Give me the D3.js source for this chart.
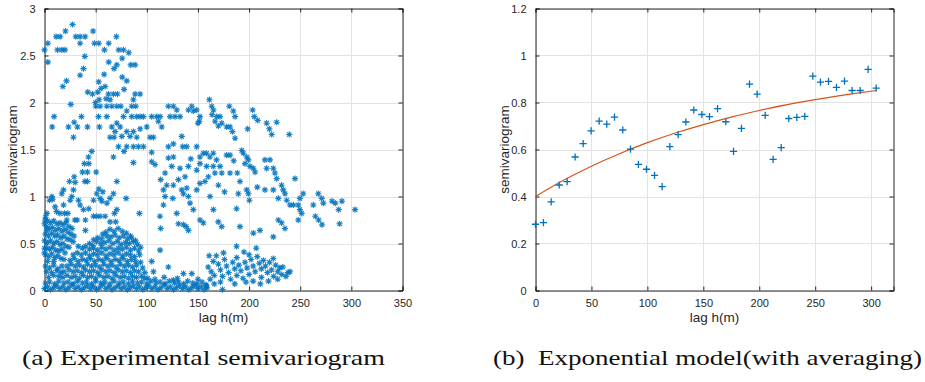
<!DOCTYPE html>
<html><head><meta charset="utf-8">
<script src="https://cdn.jsdelivr.net/npm/d3@7"></script>
<style>
html,body{margin:0;padding:0;background:#fff;}
svg{display:block;}
</style></head>
<body>
<svg id="chart" width="925" height="382"></svg>
<script>
// ---------------- DATA ----------------
// (a) experimental semivariogram cloud: [lag h (m), semivariogram]
const upperPts = [[0,2.56],[3.3,2.63],[3.3,2.43],[11.4,2.70],[15.3,2.70],[12.7,2.56],[17,2.56],[20,2.56],[20.5,2.76],[27.4,2.83],[30.6,2.70],[34.8,2.70],[34.8,2.63],[39.7,2.70],[39.4,2.49],[47.5,2.76],[48.8,2.63],[53.1,2.63],[58.6,2.56],[62.8,2.63],[70.3,2.70],[62.8,2.43],[70.7,2.40],[72.6,2.56],[77.2,2.56],[82.4,2.53],[75.9,2.47],[84.3,2.40],[88.6,2.40],[38.1,2.36],[34.8,2.29],[21.5,2.23],[17.9,2.17],[25.7,1.98],[9.4,1.85],[7.5,1.74],[23.4,1.74],[29,1.79],[36.1,1.85],[28.3,1.63],[32.2,1.74],[42,1.74],[53.7,1.74],[42.3,2.11],[46.9,2.09],[53,2.22],[58.3,2.30],[55.4,2.15],[52.1,2.11],[59.3,2.17],[62.5,2.09],[67.4,2.09],[71.3,2.09],[60.2,2.04],[64.1,2.03],[53.4,2.03],[50.1,1.96],[54.4,1.96],[60.9,1.96],[65.8,1.96],[70.7,1.96],[74.6,1.96],[77.8,2.14],[80.4,2.23],[76,2.27],[68,2.36],[49.8,2.0],[52.8,1.85],[60.9,1.85],[88.6,2.09],[93.5,2.09],[86.9,2.03],[85.3,1.96],[89.2,1.96],[80.4,1.91],[77.2,1.85],[85.3,1.85],[90.2,1.85],[93.5,1.85],[96.7,1.85],[104.8,1.85],[109.7,1.85],[113,1.85],[65.8,1.74],[70.7,1.78],[74,1.74],[69,1.69],[75.6,1.64],[80.4,1.69],[83.7,1.64],[86.9,1.69],[90.2,1.63],[93.5,1.72],[100,1.74],[103.2,1.63],[106.5,1.63],[96.7,1.53],[91.8,1.53],[86.9,1.53],[80.4,1.53],[77.8,1.48],[72.3,1.53],[68.1,1.63],[64.1,1.63],[67.4,1.42],[86.9,1.36],[104.8,1.47],[104.8,1.37],[108.1,1.34],[114.6,1.74],[111.3,1.80]];
const upperRightPts = [[121.1,1.96],[126,1.96],[129.3,1.92],[122.8,1.85],[127.6,1.85],[132.5,1.85],[140.7,1.92],[144,1.96],[148.8,1.92],[152,1.85],[145.5,1.91],[151.4,1.80],[161.2,2.03],[163.5,1.96],[165.2,1.92],[163.8,1.87],[168.4,1.85],[166.8,1.80],[171.6,1.85],[173.3,1.78],[178.1,1.74],[181.4,1.74],[183.7,1.69],[186.3,1.62],[180.7,1.96],[184.6,1.91],[186.3,1.85],[198.6,1.72],[203.5,1.92],[205.1,1.85],[208.4,1.81],[217.2,1.78],[222.1,1.66],[219.8,1.72],[227,1.79],[239.3,1.66],[150,1.78],[170,1.75]];
const midPts = [[134.2,1.64],[126,1.56],[121.1,1.53],[126,1.42],[121.1,1.41],[135.2,1.53],[139.1,1.53],[148.8,1.53],[113.6,1.18],[117.9,1.25],[124.4,1.32],[132.5,1.30],[140.7,1.32],[116.3,1.07],[119.5,1.12],[126,1.12],[130.9,1.18],[137.4,1.21],[139.1,1.09],[140.7,1.00],[142.3,0.93],[145.5,0.86],[134.2,1.07],[135.8,1.03],[125.4,0.98],[117.9,1.00],[116.3,0.91],[112.9,0.79],[113.6,0.66],[129.3,0.82],[130.9,0.71],[135.8,0.70],[138.5,0.68],[140.7,0.64],[152,1.42],[155.3,1.46],[158.5,1.46],[152,1.35],[148.8,1.28],[158.5,1.32],[161.7,1.42],[165,1.46],[168.2,1.39],[171.6,1.32],[173.3,1.25],[165,1.32],[166.6,1.25],[152,1.14],[156.9,1.16],[160.2,1.21],[148.8,1.07],[161.8,1.00],[165.1,0.86],[152,0.75],[155.3,0.72],[169.9,0.73],[173.2,0.68],[178.1,1.44],[181.4,1.44],[181.4,1.25],[188.5,1.25],[191.1,1.16],[189.5,1.03],[187.8,0.87],[191.1,0.68],[192.8,1.49],[194.4,1.46],[197.7,1.42],[199.3,1.39],[200.9,1.32],[204.2,1.30],[205.9,1.26],[196,1.35],[197.7,1.07],[199.3,1.03],[200.3,0.96],[215.5,1.39],[220.4,1.39],[217.2,1.30],[223.7,1.30],[225.3,1.25],[227,1.19],[223.7,1.07],[215.5,1.07],[231.8,1.12],[233.4,1.07],[235.1,1.03],[228.6,0.98],[236.8,0.96],[240,0.91],[244.9,1.19],[243.3,0.91],[248.1,0.91],[249.7,0.86],[251.4,0.82],[252.9,1.03],[248.1,0.75],[249.7,0.98],[262.8,0.91],[267.7,1.03],[271,0.98],[272.6,0.93],[281.1,0.95],[284.3,0.93],[287.6,0.86],[290.8,0.95],[303.6,0.86],[288.5,0.71],[264.8,0.79],[268,0.75],[271.3,0.70],[228.6,0.75],[231.8,0.72],[235.1,0.66],[210.6,0.64],[204.2,0.61],[223.7,0.57],[143,1.40],[170,1.12],[176,1.05],[208,1.10],[185,1.38]];
const leftMidPts = [[46.2,1.48],[43,1.42],[39,1.35],[43.3,1.35],[50.5,1.26],[37.1,1.26],[42,1.26],[29,1.21],[24.4,1.16],[39.4,1.16],[42,1.16],[28.3,1.07],[18.6,1.07],[16.9,1.03],[7.2,1.00],[4.9,0.96],[25.1,0.96],[26.7,1.00],[33.2,0.96],[34.8,0.91],[38.1,0.86],[43.3,0.87],[47.9,0.96],[51.1,1.03],[53.1,1.08],[54.4,0.98],[56.1,0.95],[61,0.93],[64.1,0.98],[67.4,1.03],[70.7,1.16],[79.8,0.98],[92.8,0.82],[18.6,0.91],[10.4,0.89],[11.7,0.84],[15,0.82],[19.5,0.82],[22.8,0.82],[21.8,0.75],[29.6,0.75],[32,0.75],[40,0.75],[40,0.64],[47.9,0.79],[51.1,0.79],[54.4,0.79],[59.3,0.79],[64.1,0.73],[68.4,0.82],[70.7,0.86],[69.6,0.73],[0.7,0.75],[2.3,0.82],[2.3,0.64],[8,0.97],[30,1.15],[57,1.05]];
const lowerLeftPts = [[1,0.78],[3,0.74],[6,0.72],[9,0.74],[12,0.71],[15,0.72],[18,0.70],[21,0.72],[24,0.68],[2,0.68],[5,0.66],[8,0.67],[11,0.64],[14,0.66],[17,0.63],[20,0.65],[23,0.62],[26,0.60],[1,0.60],[4,0.58],[7,0.61],[10,0.58],[13,0.59],[16,0.56],[19,0.58],[22,0.55],[25,0.54],[28,0.52],[0,0.53],[3,0.51],[6,0.53],[9,0.50],[12,0.52],[15,0.49],[18,0.50],[21,0.47],[24,0.46],[2,0.45],[5,0.44],[8,0.46],[11,0.43],[14,0.42],[17,0.44],[20,0.40],[1,0.38],[4,0.36],[7,0.39],[10,0.35],[13,0.37],[16,0.34],[3,0.31],[9,0.31],[19,0.33],[0,0.71],[0,0.45],[0,0.40],[27,0.66],[29,0.58],[1,0.26],[5,0.24],[9,0.27],[13,0.23],[17,0.26],[2,0.20],[7,0.19],[12,0.21],[16,0.19]];
const triPts = [[60,0.62],[64,0.65],[68,0.63],[72,0.66],[76,0.63],[80,0.61],[84,0.58],[57,0.60],[52,0.56],[56,0.55],[61,0.58],[65,0.57],[69,0.59],[73,0.56],[77,0.58],[81,0.55],[85,0.56],[89,0.53],[48,0.54],[44,0.50],[47,0.48],[51,0.52],[55,0.50],[59,0.51],[63,0.53],[67,0.50],[71,0.52],[75,0.49],[79,0.51],[83,0.50],[87,0.52],[91,0.49],[94,0.46],[33,0.47],[37,0.45],[40,0.47],[44,0.44],[48,0.45],[52,0.43],[56,0.46],[60,0.44],[64,0.46],[68,0.43],[72,0.45],[76,0.44],[80,0.46],[84,0.43],[88,0.45],[92,0.42],[28,0.38],[32,0.40],[36,0.38],[40,0.40],[44,0.37],[48,0.39],[52,0.38],[56,0.40],[60,0.37],[64,0.39],[68,0.38],[72,0.40],[76,0.37],[80,0.39],[84,0.38],[88,0.36],[93,0.38],[25,0.32],[29,0.34],[33,0.31],[37,0.33],[41,0.32],[45,0.34],[49,0.31],[53,0.33],[57,0.32],[61,0.34],[65,0.31],[69,0.33],[73,0.32],[77,0.34],[81,0.31],[85,0.33],[89,0.31],[94,0.30],[22,0.26],[26,0.28],[30,0.26],[34,0.27],[38,0.25],[42,0.28],[46,0.26],[50,0.27],[54,0.25],[58,0.28],[62,0.26],[66,0.27],[70,0.25],[74,0.28],[78,0.26],[82,0.27],[86,0.25],[90,0.27],[96,0.24],[19,0.20],[24,0.22],[28,0.20],[32,0.21],[36,0.19],[40,0.22],[44,0.20],[48,0.21],[52,0.19],[56,0.22],[60,0.20],[64,0.21],[68,0.19],[72,0.22],[76,0.20],[80,0.21],[84,0.19],[88,0.21],[92,0.20],[98,0.19],[4,0.14],[9,0.16],[14,0.15],[18,0.14],[22,0.16],[26,0.14],[30,0.15],[34,0.13],[38,0.16],[42,0.14],[46,0.15],[50,0.13],[54,0.16],[58,0.14],[62,0.15],[66,0.13],[70,0.16],[74,0.14],[78,0.15],[82,0.13],[86,0.15],[90,0.14],[95,0.15],[101,0.13]];
const bottomPts = [[0,0.02],[3,0.04],[6,0.01],[9,0.03],[12,0.05],[15,0.02],[18,0.04],[21,0.01],[24,0.03],[27,0.06],[30,0.02],[33,0.04],[36,0.01],[39,0.03],[42,0.05],[45,0.02],[48,0.04],[51,0.01],[54,0.03],[57,0.06],[60,0.02],[63,0.04],[66,0.01],[69,0.03],[72,0.05],[75,0.02],[78,0.04],[81,0.01],[84,0.03],[87,0.05],[90,0.02],[93,0.04],[96,0.01],[99,0.03],[102,0.05],[105,0.02],[108,0.04],[111,0.01],[114,0.03],[117,0.06],[120,0.02],[123,0.04],[126,0.01],[129,0.03],[132,0.05],[135,0.02],[138,0.04],[141,0.01],[144,0.03],[147,0.05],[150,0.02],[153,0.04],[156,0.01],[159,0.03],[174,0.01],[1,0.08],[5,0.09],[10,0.07],[14,0.10],[19,0.08],[23,0.09],[28,0.07],[32,0.10],[37,0.08],[41,0.09],[46,0.07],[50,0.10],[55,0.08],[59,0.09],[64,0.07],[68,0.10],[73,0.08],[77,0.09],[82,0.07],[86,0.10],[91,0.08],[95,0.09],[100,0.07],[104,0.10],[109,0.08],[113,0.09],[118,0.07],[122,0.10],[127,0.08],[131,0.09],[136,0.07],[140,0.10],[145,0.08],[149,0.07],[154,0.09],[158,0.06],[104.8,0.31],[106.5,0.2],[121.1,0.25],[135.8,0.18],[144,0.18],[126,0.11],[113,0.43],[117,0.14],[130,0.13],[150,0.12],[98,0.13],[108,0.12]];
const lowerRightPts = [[161,0.37],[168,0.37],[165,0.31],[160,0.25],[163,0.20],[162,0.12],[166,0.16],[170,0.28],[172,0.22],[174,0.15],[176,0.33],[178,0.26],[180,0.19],[182,0.12],[184,0.30],[186,0.23],[188,0.16],[188,0.35],[190,0.27],[192,0.21],[194,0.13],[196,0.30],[198,0.24],[200,0.38],[200,0.17],[202,0.33],[204,0.26],[204,0.10],[206,0.20],[207,0.45],[208,0.36],[210,0.29],[212,0.23],[212,0.14],[214,0.32],[216,0.26],[218,0.19],[220,0.30],[222,0.22],[223.7,0.34],[224,0.15],[226,0.27],[228,0.20],[230,0.24],[232,0.17],[233,0.25],[236,0.15],[238,0.19],[240,0.2],[187.8,0.47],[195,0.41],[175,0.40],[158,0.05],[166,0.07],[172,0.09],[186,0.07],[197,0.09],[211,0.07],[219,0.10],[228,0.12]];

// (b) averaged semivariogram
const binLags = [0,7.1,14,21.2,28.3,35.4,42.6,49.7,56.9,63.7,70.6,78,84.9,92,99.2,106.4,113.2,120.1,127.5,134.4,141.5,148.7,155.5,162.7,170.1,177,184.1,191.3,198.1,205.3,212.4,219.6,226.4,233.6,240.7,247.9,254.7,261.9,269,276.2,283,290.2,297.3,304.5];
const binGamma = [0.282,0.289,0.377,0.449,0.463,0.568,0.625,0.679,0.721,0.708,0.738,0.683,0.602,0.537,0.516,0.490,0.442,0.612,0.663,0.717,0.768,0.749,0.740,0.774,0.718,0.592,0.690,0.878,0.836,0.745,0.558,0.608,0.732,0.737,0.741,0.912,0.887,0.890,0.864,0.891,0.851,0.851,0.941,0.861];
// exponential model curve
const modelLags = [0,25,50,75,100,125,150,175,200,225,250,275,304.5];
const modelGamma = [0.400,0.469,0.529,0.582,0.629,0.670,0.706,0.738,0.766,0.791,0.812,0.831,0.851];

// axis ticks
const xTicksA = [0,50,100,150,200,250,300,350];
const yTicksA = [0,0.5,1,1.5,2,2.5,3];
const xTicksB = [0,50,100,150,200,250,300];
const yTicksB = [0,0.2,0.4,0.6,0.8,1,1.2];

const captions = ["(a) Experimental semivariogram", "(b)\u00a0 Exponential model(with averaging)"];

// ---------------- DRAW ----------------
const svg = d3.select("#chart");
const blue = "#0072BD", orange = "#D95319", axisCol = "#262626", gridCol = "#e3e3e3";
const fontSans = "'Liberation Sans', Arial, Helvetica, sans-serif";

function panel(opt) {
  const g = svg.append("g");
  const x = d3.scaleLinear().domain(opt.xDomain).range([opt.x0, opt.x1]);
  const y = d3.scaleLinear().domain(opt.yDomain).range([opt.y0, opt.y1]);
  g.append("g").selectAll("line").data(opt.xTicks).join("line")
    .attr("x1", d => Math.round(x(d)) + 0.5).attr("x2", d => Math.round(x(d)) + 0.5)
    .attr("y1", opt.y0).attr("y2", opt.y1).attr("stroke", gridCol).attr("stroke-width", 1);
  g.append("g").selectAll("line").data(opt.yTicks).join("line")
    .attr("y1", d => Math.round(y(d)) + 0.5).attr("y2", d => Math.round(y(d)) + 0.5)
    .attr("x1", opt.x0).attr("x2", opt.x1).attr("stroke", gridCol).attr("stroke-width", 1);
  const fmt = d => String(+d.toFixed(2));
  const bottom = g.append("g").attr("transform", `translate(0,${opt.y0})`)
    .call(d3.axisBottom(x).tickValues(opt.xTicks).tickFormat(fmt).tickSize(-4).tickPadding(9));
  const left = g.append("g").attr("transform", `translate(${opt.x0},0)`)
    .call(d3.axisLeft(y).tickValues(opt.yTicks).tickFormat(fmt).tickSize(-4).tickPadding(9));
  const top = g.append("g").attr("transform", `translate(0,${opt.y1})`)
    .call(d3.axisTop(x).tickValues(opt.xTicks).tickFormat("").tickSize(-4));
  const right = g.append("g").attr("transform", `translate(${opt.x1},0)`)
    .call(d3.axisRight(y).tickValues(opt.yTicks).tickFormat("").tickSize(-4));
  [bottom, left, top, right].forEach(a => {
    a.select(".domain").attr("stroke", axisCol).attr("stroke-width", 1);
    a.selectAll(".tick line").attr("stroke", axisCol).attr("stroke-width", 1);
    a.selectAll(".tick text").attr("fill", axisCol).style("font-family", fontSans).style("font-size", "11px");
  });
  g.append("text").attr("x", (opt.x0 + opt.x1) / 2).attr("y", 322).attr("text-anchor", "middle")
    .attr("fill", axisCol).style("font-family", fontSans).style("font-size", "13.5px").text("lag h(m)");
  g.append("text").attr("transform", `translate(${opt.ylabX},${(opt.y0 + opt.y1) / 2}) rotate(-90)`)
    .attr("text-anchor", "middle").attr("fill", axisCol).style("font-family", fontSans)
    .style("font-size", "13.5px").text("semivariogram");
  return {g, x, y};
}

// Panel (a)
const A = panel({xDomain:[0,350], yDomain:[0,3], x0:44.5, x1:402.5, y0:290.5, y1:8.5,
  xTicks:xTicksA, yTicks:yTicksA, ylabX:16.5});
const cloud = [].concat(bottomPts, lowerLeftPts, triPts, lowerRightPts, leftMidPts, midPts, upperPts, upperRightPts);
const r1 = 3.1, d1 = r1 * 0.7071;
const star = `M${-r1},0H${r1}M0,${-r1}V${r1}M${-d1},${-d1}L${d1},${d1}M${-d1},${d1}L${d1},${-d1}`;
A.g.append("g").selectAll("path").data(cloud).join("path")
  .attr("transform", d => `translate(${A.x(d[0])},${A.y(d[1])})`)
  .attr("d", star).attr("fill", "none").attr("stroke", blue).attr("stroke-width", 1.1).attr("opacity", 0.9);

// Panel (b)
const B = panel({xDomain:[0,320], yDomain:[0,1.2], x0:535.5, x1:893.5, y0:290.5, y1:8.5,
  xTicks:xTicksB, yTicks:yTicksB, ylabX:508.5});
const modelData = modelLags.map((h, i) => [h, modelGamma[i]]);
B.g.append("path").datum(modelData)
  .attr("d", d3.line().x(d => B.x(d[0])).y(d => B.y(d[1])).curve(d3.curveMonotoneX))
  .attr("fill", "none").attr("stroke", orange).attr("stroke-width", 1.2);
const r2 = 3.6;
const plus = `M${-r2},0H${r2}M0,${-r2}V${r2}`;
B.g.append("g").selectAll("path").data(binLags.map((h, i) => [h, binGamma[i]])).join("path")
  .attr("transform", d => `translate(${B.x(d[0])},${B.y(d[1])})`)
  .attr("d", plus).attr("fill", "none").attr("stroke", blue).attr("stroke-width", 1.3);

// captions
const capFont = "'Liberation Serif', 'Times New Roman', serif";
svg.append("text").attr("x", 22).attr("y", 365).attr("textLength", 363).attr("lengthAdjust", "spacingAndGlyphs")
  .style("font-family", capFont).style("font-size", "22px").attr("fill", "#111").text(captions[0]);
svg.append("text").attr("x", 493).attr("y", 365).attr("textLength", 429).attr("lengthAdjust", "spacingAndGlyphs")
  .style("font-family", capFont).style("font-size", "22px").attr("fill", "#111").text(captions[1]);
</script>
</body></html>
